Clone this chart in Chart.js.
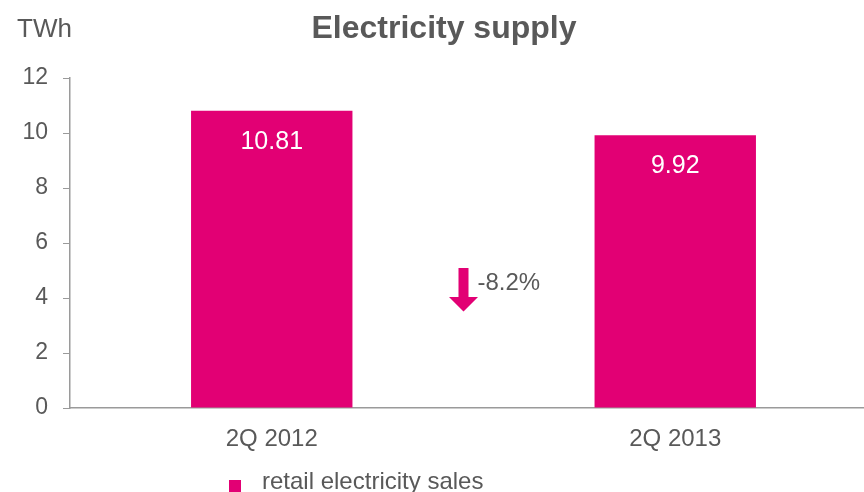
<!DOCTYPE html>
<html>
<head>
<meta charset="utf-8">
<script src="https://cdn.jsdelivr.net/npm/chart.js@4/dist/chart.umd.min.js"></script>
<style>
  html, body { margin: 0; padding: 0; background: #fff; overflow: hidden; }
  #wrap { width: 864px; height: 492px; position: relative; overflow: hidden; }
  #c { position: absolute; left: 0; top: 0; }
</style>
</head>
<body>
<div id="wrap"><canvas id="c" width="877" height="492"></canvas></div>
<script>
const categories = ['2Q 2012', '2Q 2013'];
const retailSales = [10.81, 9.92];
const yTicks = [0, 2, 4, 6, 8, 10, 12];
const changeLabel = '-8.2%';
const seriesName = 'retail electricity sales';

const MAGENTA = '#E20074';
const GREY = '#595959';
const AXIS = '#9a9a9a';
const FONT = '"Liberation Sans", Arial, sans-serif';

const overlay = {
  id: 'overlay',
  afterDatasetsDraw(chart) {
    const ctx = chart.ctx;
    const x = chart.scales.x, y = chart.scales.y;
    const meta = chart.getDatasetMeta(0);
    ctx.save();
    // value labels inside the bars
    ctx.fillStyle = '#ffffff';
    ctx.font = '25px ' + FONT;
    ctx.textAlign = 'center';
    ctx.textBaseline = 'alphabetic';
    meta.data.forEach((bar, i) => {
      ctx.fillText(retailSales[i].toFixed(2), bar.x, bar.y + 38);
    });
    // change arrow between the bars
    const cx = (x.getPixelForValue(0) + x.getPixelForValue(1)) / 2 - 10;
    const top = y.getPixelForValue(5.09);
    const neck = y.getPixelForValue(4.04);
    const tip = y.getPixelForValue(3.51);
    ctx.fillStyle = MAGENTA;
    ctx.beginPath();
    ctx.moveTo(cx - 5, top);
    ctx.lineTo(cx + 5, top);
    ctx.lineTo(cx + 5, neck);
    ctx.lineTo(cx + 14.5, neck);
    ctx.lineTo(cx, tip);
    ctx.lineTo(cx - 14.5, neck);
    ctx.lineTo(cx - 5, neck);
    ctx.closePath();
    ctx.fill();
    ctx.fillStyle = GREY;
    ctx.font = '24px ' + FONT;
    ctx.textAlign = 'left';
    ctx.fillText(changeLabel, cx + 14, y.getPixelForValue(4.29));
    ctx.restore();
  },
  afterDraw(chart) {
    const ctx = chart.ctx;
    ctx.save();
    ctx.textBaseline = 'alphabetic';
    // title
    ctx.fillStyle = GREY;
    ctx.font = 'bold 32px ' + FONT;
    ctx.textAlign = 'center';
    ctx.fillText('Electricity supply', 444, 38);
    // unit
    ctx.font = '26px ' + FONT;
    ctx.textAlign = 'left';
    ctx.fillText('TWh', 17, 37);
    // legend
    ctx.fillStyle = MAGENTA;
    ctx.fillRect(229, 480, 12, 12);
    ctx.fillStyle = GREY;
    ctx.font = '24px ' + FONT;
    ctx.fillText(seriesName, 262, 489);
    ctx.restore();
  }
};

new Chart(document.getElementById('c'), {
  type: 'bar',
  data: {
    labels: categories,
    datasets: [{
      label: seriesName,
      data: retailSales,
      backgroundColor: MAGENTA,
      borderWidth: 0,
      categoryPercentage: 0.8,
      barPercentage: 0.5
    }]
  },
  options: {
    responsive: false,
    animation: false,
    layout: { padding: { top: 78, left: 0, right: 0, bottom: 0 } },
    plugins: {
      legend: { display: false },
      tooltip: { enabled: false },
      title: { display: false }
    },
    scales: {
      x: {
        afterFit(axis) { axis.height = 84; },
        grid: { display: false, drawTicks: false },
        border: { display: true, color: AXIS, width: 1.5 },
        ticks: { color: GREY, font: { family: FONT, size: 24 }, padding: 17 }
      },
      y: {
        min: 0,
        max: 12,
        afterBuildTicks(axis) { axis.ticks = yTicks.map(v => ({ value: v })); },
        afterFit(axis) { axis.width = 70; },
        grid: { drawOnChartArea: false, drawTicks: true, tickLength: 7, color: AXIS },
        border: { display: true, color: AXIS, width: 1.5 },
        ticks: { color: GREY, font: { family: FONT, size: 23 }, padding: 15 }
      }
    }
  },
  plugins: [overlay]
});
</script>
</body>
</html>
